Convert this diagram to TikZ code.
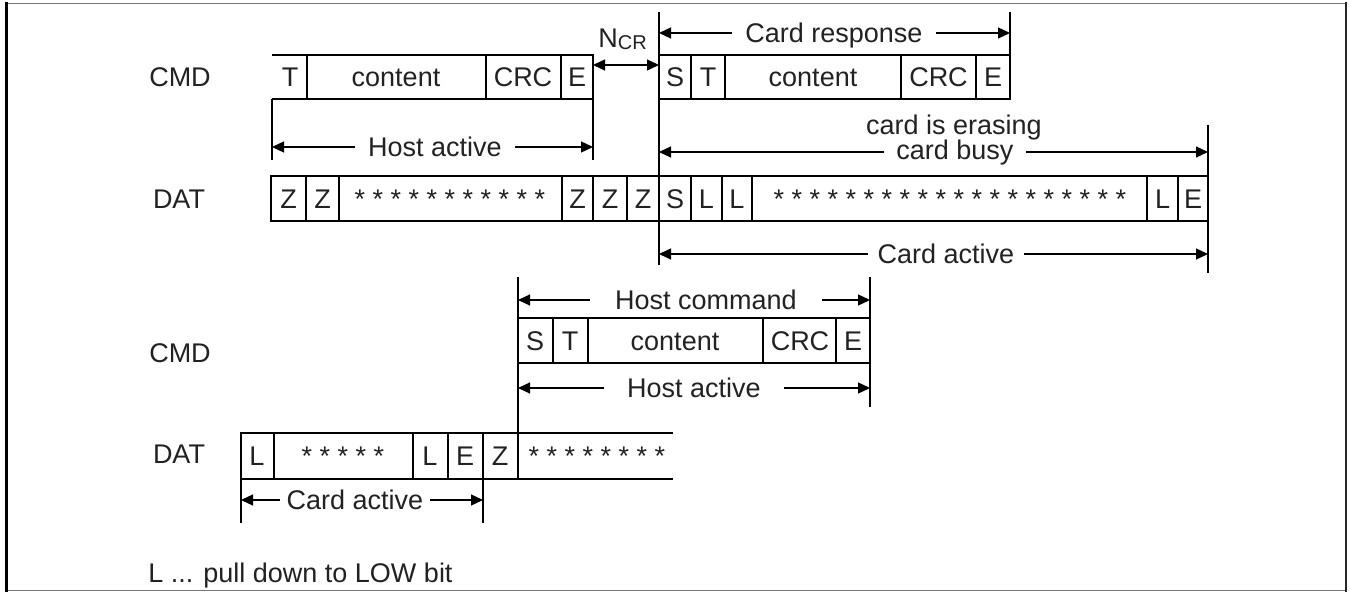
\documentclass[tikz,border=0pt]{standalone}
\usepackage{fontspec}
\setmainfont{Liberation Sans}
\usetikzlibrary{arrows.meta}
\definecolor{txt}{HTML}{222222}
\definecolor{framegray}{HTML}{777777}
\begin{document}
\begin{tikzpicture}[x=0.5pt,y=-0.5pt,
  every node/.style={font=\fontsize{13.5}{16}\selectfont, text=txt, inner sep=0pt, text height=9.7pt, text depth=0pt},
  ln/.style={line width=0.65pt},
  lnb/.style={line width=1.3pt},
  dim/.style={line width=0.65pt, {Triangle[length=6pt,width=5.5pt]}-{Triangle[length=6pt,width=5.5pt]}},
  gap/.style={fill=white, inner xsep=#1, inner ysep=1pt},
]
\fill[white] (0,0) rectangle (1350,593);
\useasboundingbox (0,0) rectangle (1350,593);
% frame
\draw[line width=0.75pt, framegray] (6,3.5) -- (1347,3.5);
\draw[line width=0.75pt, framegray] (6,590.5) -- (1347,590.5);
\draw[line width=1.5pt, black] (6.5,2.5) -- (6.5,591.5);
\draw[line width=1pt, black!85] (1346,2.5) -- (1346,591.5);

% row labels
\node (cmd1) at (180,77) {CMD};
\node (dat1) at (179,199) {DAT};
\node (cmd2) at (180,353) {CMD};
\node (dat2) at (179,454) {DAT};

% ---------- top CMD (host command end) ----------
\draw[lnb] (272,55) -- (593,55) -- (593,99) -- (272,99);
\draw[ln] (307,55) -- (307,99) (486,55) -- (486,99) (561,55) -- (561,99);
\node (c1t) at (290,77) {T};
\node (c1c) at (396,77) {content};
\node (c1r) at (523,77) {CRC};
\node (c1e) at (577,77) {E};
\draw[ln] (272,99) -- (272,160) (593,99) -- (593,160);
\coordinate (ha1l) at (272,147);
\coordinate (ha1r) at (593,147);
\draw[dim] (ha1l) -- (ha1r);
\node[gap=6.5pt] (ha1) at (435,147) {Host active};

% ---------- card response ----------
\draw[lnb] (659,55) rectangle (1010,99);
\draw[ln] (691,55) -- (691,99) (725,55) -- (725,99) (901,55) -- (901,99) (976,55) -- (976,99);
\node (r1s) at (675,77) {S};
\node (r1t) at (708,77) {T};
\node (r1c) at (813,77) {content};
\node (r1r) at (938.5,77) {CRC};
\node (r1e) at (993,77) {E};
\draw[ln] (659,12) -- (659,265);
\draw[ln] (1010,12) -- (1010,55);
\coordinate (crl) at (659,33);
\coordinate (crr) at (1010,33);
\draw[dim] (crl) -- (crr);
\node[gap=6.5pt] (cr) at (834,33) {Card response};

% N_CR
\coordinate (ncl) at (593,65);
\coordinate (ncr) at (659,65);
\draw[dim] (ncl) -- (ncr);
\node[anchor=base west] (ncr) at (598,48) {N\raisebox{-1pt}{\fontsize{10}{12}\selectfont CR}};

% card busy
\draw[ln] (1208,125) -- (1208,273);
\coordinate (cbl) at (659,152);
\coordinate (cbr) at (1208,152);
\draw[dim] (cbl) -- (cbr);
\node (cer) at (954,125) {card is erasing};
\node[gap=6pt] (cb) at (955,150) {card busy};

% ---------- top DAT ----------
\draw[ln] (271,176) rectangle (1208,221);
\draw[ln] (306,176) -- (306,221) (339,176) -- (339,221) (562,176) -- (562,221)
          (593,176) -- (593,221) (627,176) -- (627,221) (691,176) -- (691,221)
          (722,176) -- (722,221) (752,176) -- (752,221) (1147,176) -- (1147,221)
          (1178,176) -- (1178,221);
\node (d1z1) at (288.5,198.5) {Z};
\node (d1z2) at (322.5,198.5) {Z};
\node (d1s1) at (450,198.5) {* * * * * * * * * * *};
\node (d1z3) at (577.5,198.5) {Z};
\node (d1z4) at (610,198.5) {Z};
\node (d1z5) at (643,198.5) {Z};
\node (d1s) at (675,198.5) {S};
\node (d1l1) at (706.5,198.5) {L};
\node (d1l2) at (737,198.5) {L};
\node (d1s2) at (950,198.5) {* * * * * * * * * * * * * * * * * * * *};
\node (d1l3) at (1162.5,198.5) {L};
\node (d1e) at (1193,198.5) {E};
\coordinate (ca1l) at (659,254);
\coordinate (ca1r) at (1208,254);
\draw[dim] (ca1l) -- (ca1r);
\node[gap=5pt] (ca1) at (946,254) {Card active};

% ---------- host command (bottom CMD) ----------
\draw[ln] (518,277) -- (518,479);
\draw[ln] (870,277) -- (870,407);
\coordinate (hcl) at (518,300);
\coordinate (hcr) at (870,300);
\draw[dim] (hcl) -- (hcr);
\node[gap=12.5pt] (hc) at (706,300) {Host command};
\draw[lnb] (518,318) rectangle (870,363);
\draw[ln] (553,318) -- (553,363) (588,318) -- (588,363) (763,318) -- (763,363) (836,318) -- (836,363);
\node (c2s) at (535,340.5) {S};
\node (c2t) at (570,340.5) {T};
\node (c2c) at (675,340.5) {content};
\node (c2r) at (800,340.5) {CRC};
\node (c2e) at (853,340.5) {E};
\coordinate (ha2l) at (518,388);
\coordinate (ha2r) at (870,388);
\draw[dim] (ha2l) -- (ha2r);
\node[gap=11.5pt] (ha2) at (694,388) {Host active};

% ---------- bottom DAT ----------
\draw[lnb] (483,433) -- (241,433) -- (241,479) -- (483,479) -- cycle;
\draw[ln] (274,433) -- (274,479) (413,433) -- (413,479) (448,433) -- (448,479);
\draw[ln] (483,433) -- (673,433) (483,479) -- (673,479);
\node (d2l1) at (257,456) {L};
\node (d2s1) at (343,456) {* * * * *};
\node (d2l2) at (430,456) {L};
\node (d2e) at (465,456) {E};
\node (d2z) at (500,456) {Z};
\node (d2s2) at (597,456) {* * * * * * * *};
\draw[ln] (241,479) -- (241,523) (483,479) -- (483,523);
\coordinate (ca2l) at (241,500);
\coordinate (ca2r) at (483,500);
\draw[dim] (ca2l) -- (ca2r);
\node[gap=3.5pt] (ca2) at (355,500) {Card active};

% footnote
\node[anchor=west] (note) at (148,573) {L ... pull down to LOW bit};
\end{tikzpicture}
\end{document}
